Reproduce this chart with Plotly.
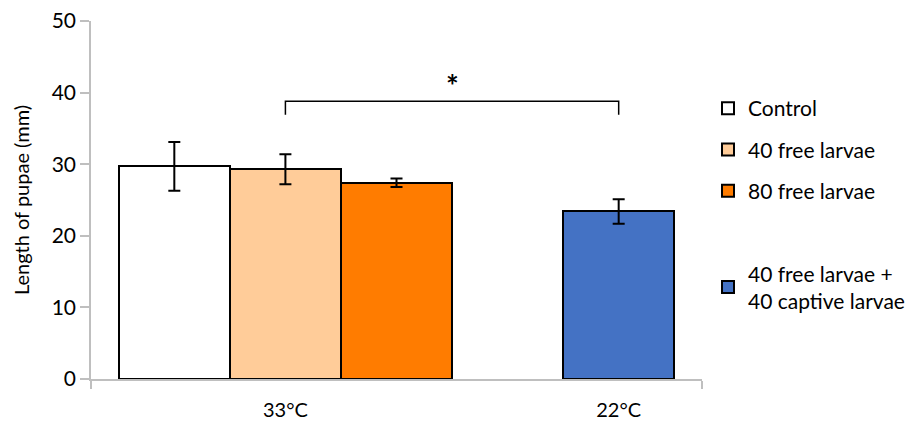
import plotly.graph_objects as go

# ---- data ----
series_names = ["Control", "40 free larvae", "80 free larvae", "40 free larvae +<br>40 captive larvae"]
temperature = ["33°C", "33°C", "33°C", "22°C"]
mean_length = [29.7, 29.3, 27.4, 23.4]
error_length = [3.4, 2.1, 0.6, 1.7]
y_ticks = [0, 10, 20, 30, 40, 50]

# ---- styles ----
fill_colors = ["#FFFFFF", "#FFCC99", "#FF7C00", "#4472C4"]
FONT = "Lato"
AXIS_GRAY = "#BFBFBF"
PAGE_OFFSET = 8  # default body margin of the html page

# slot positions: one empty slot between temperature groups
positions = []
slot = 0
prev = None
for t in temperature:
    if prev is not None and t != prev:
        slot += 1
    positions.append(slot)
    slot += 1
    prev = t

group_labels = []
group_centers = []
for t in dict.fromkeys(temperature):
    ps = [p for p, tt in zip(positions, temperature) if tt == t]
    group_labels.append(t)
    group_centers.append(sum(ps) / len(ps))

fig = go.Figure()
for i, name in enumerate(series_names):
    fig.add_trace(go.Bar(
        x=[positions[i]], y=[mean_length[i]], name=name, width=1,
        marker=dict(color=fill_colors[i], line=dict(color="black", width=2)),
        error_y=dict(type="data", array=[error_length[i]], color="black", thickness=2, width=6),
        legendgroup=f"g{i}",
    ))
    if i == 2:
        # spacer legend entry
        fig.add_trace(go.Bar(
            x=[positions[i]], y=[0], name=" ", width=1,
            marker=dict(color="rgba(0,0,0,0)", line=dict(width=0)),
            legendgroup="spacer", hoverinfo="skip",
        ))

# significance bracket between 40 free larvae (33°C) and 22°C bar
xa, xb = positions[1], positions[3]
top = 38.8
low = 36.9
fig.add_shape(type="path", xref="x", yref="y",
              path=f"M {xa},{low} L {xa},{top} L {xb},{top} L {xb},{low}",
              line=dict(color="black", width=1.5))
fig.add_annotation(x=(xa + xb) / 2, y=38.2, text="<b>*</b>", showarrow=False,
                   yanchor="bottom", font=dict(family=FONT, size=30, color="black"))

W, H = 921 - PAGE_OFFSET, 423 - PAGE_OFFSET
fig.update_layout(
    width=W, height=H,
    margin=dict(l=91 - PAGE_OFFSET, r=219, t=21 - PAGE_OFFSET, b=44, autoexpand=False),
    plot_bgcolor="white", paper_bgcolor="white",
    barmode="overlay", bargap=0,
    font=dict(family=FONT, color="black"),
    showlegend=True,
    legend=dict(xref="container", yref="container", x=700 / W, y=1 - 80 / H,
                xanchor="left", yanchor="top", traceorder="grouped", tracegroupgap=11,
                maxheight=400,
                font=dict(family=FONT, size=21, color="black"), bgcolor="rgba(0,0,0,0)"),
)
fig.update_xaxes(
    range=[-0.75, max(positions) + 0.75],
    tickvals=group_centers, ticktext=group_labels, ticks="",
    tickfont=dict(family=FONT, size=20, color="black"), ticklabelstandoff=12,
    showline=True, linecolor=AXIS_GRAY, linewidth=1.5, showgrid=False, zeroline=False,
    minor=dict(ticks="outside", tick0=-0.75, dtick=max(positions) + 1.5, ticklen=8,
               tickcolor=AXIS_GRAY, tickwidth=1.5, showgrid=False),
)
fig.update_yaxes(
    range=[0, 50], tickvals=y_ticks, ticks="outside", ticklen=9, tickcolor=AXIS_GRAY, tickwidth=1.5,
    tickfont=dict(family=FONT, size=21, color="black"), ticklabeloverflow="allow",
    showline=True, linecolor=AXIS_GRAY, linewidth=1.5, showgrid=False, zeroline=False,
    title=dict(text="Length of pupae (mm)", font=dict(family=FONT, size=20, color="black"), standoff=17),
)
fig.write_html("out.html")
